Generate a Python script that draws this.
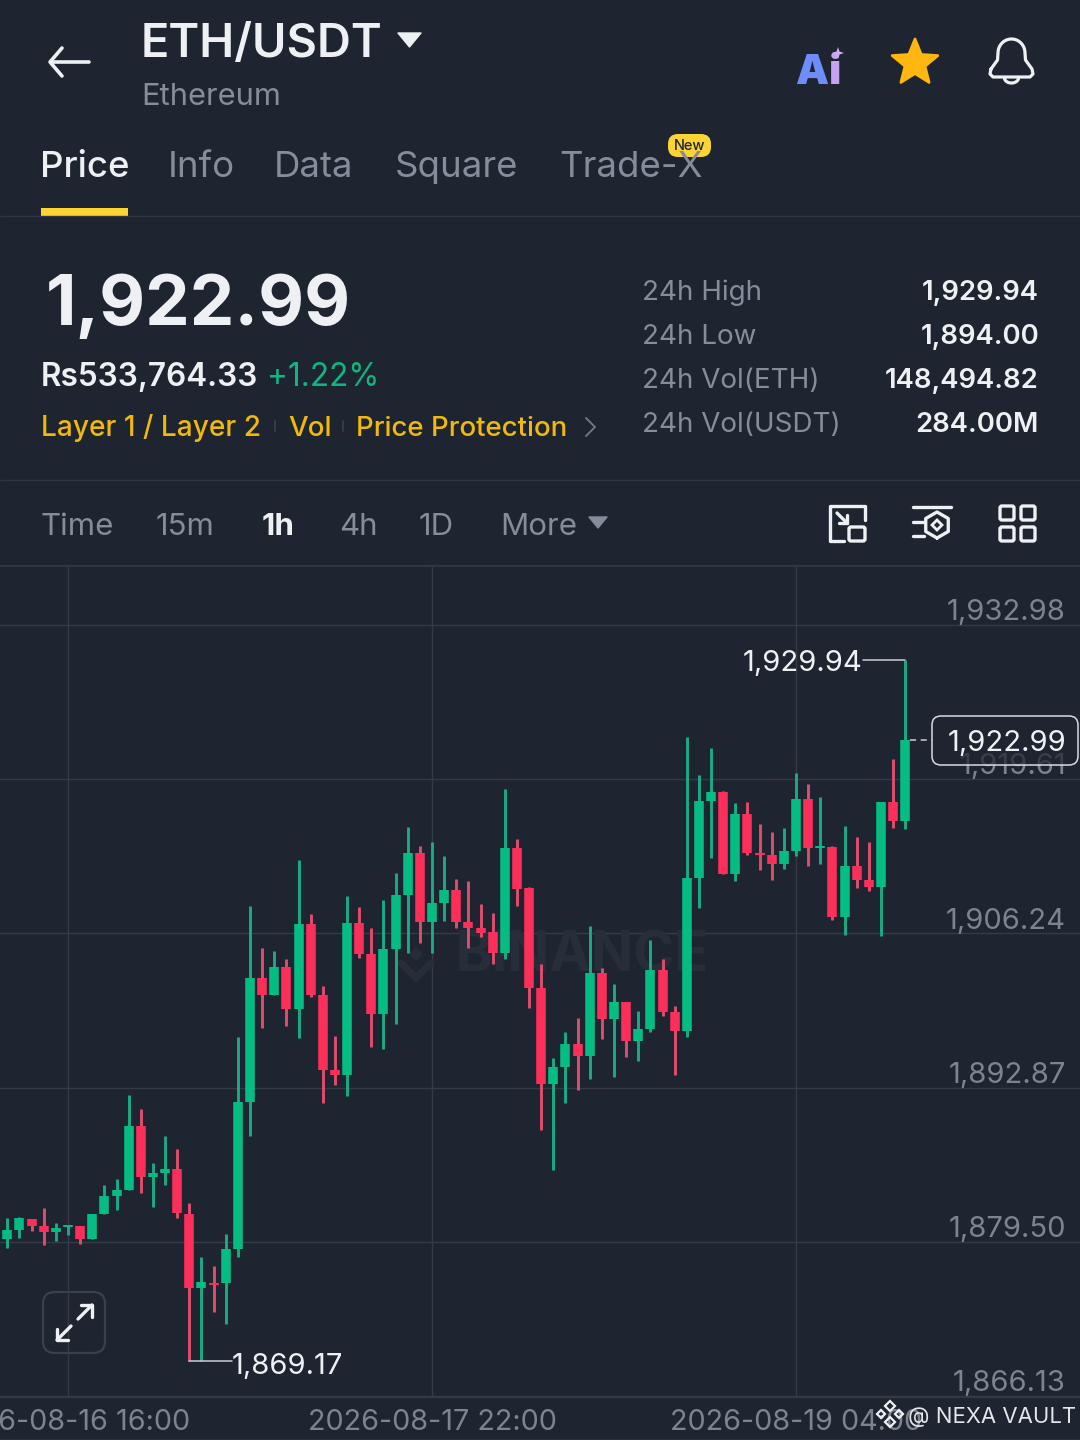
import numpy as np, pandas as pd, seaborn as sns
import matplotlib
matplotlib.use("Agg")
import matplotlib.pyplot as plt
from matplotlib.colors import to_rgba
from matplotlib.patches import FancyBboxPatch, Polygon, Rectangle
from matplotlib.transforms import blended_transform_factory as blend

first_index = -6
opens = [1881.56,1879.74,1880.52,1881.47,1880.87,1880.35,1880.78,1880.87,1879.74,1881.91,1883.47,1883.99,1889.53,1885.11,1885.46,1885.81,1881.91,1875.49,1875.92,1875.92,1878.87,1891.62,1902.37,1900.89,1903.32,1899.67,1907.05,1900.89,1894.39,1893.96,1907.13,1904.45,1899.25,1904.88,1909.56,1913.20,1907.22,1908.87,1910.00,1907.22,1906.71,1906.36,1904.54,1913.63,1910.17,1901.50,1893.18,1894.65,1896.65,1895.61,1902.80,1898.81,1900.29,1896.91,1897.95,1903.06,1899.42,1897.77,1911.04,1917.71,1918.49,1911.38,1916.59,1913.20,1913.03,1912.25,1913.38,1917.89,1913.63,1913.72,1907.65,1912.07,1910.86,1910.26,1917.63,1915.98]
highs = [1881.73,1881.56,1881.65,1881.47,1882.43,1881.13,1880.95,1880.87,1881.91,1884.42,1884.94,1892.22,1891.01,1886.33,1888.67,1887.54,1882.86,1878.18,1877.40,1880.17,1897.25,1908.61,1904.97,1904.71,1904.02,1912.60,1907.91,1901.67,1897.34,1909.48,1908.53,1906.71,1909.13,1911.47,1915.46,1913.81,1914.16,1912.94,1910.95,1910.77,1908.78,1908.00,1918.75,1914.42,1910.26,1903.58,1895.43,1897.69,1898.90,1906.88,1903.24,1901.85,1900.29,1899.51,1905.66,1904.02,1899.94,1923.26,1919.97,1922.31,1918.58,1917.54,1917.63,1915.72,1915.03,1915.37,1920.14,1919.19,1918.06,1913.81,1915.55,1914.59,1914.16,1917.63,1921.36,1929.94]
lows = [1880.17,1878.96,1879.83,1880.43,1879.22,1879.57,1880.09,1879.31,1879.74,1881.91,1882.25,1883.99,1883.73,1882.51,1884.42,1881.56,1869.17,1869.17,1873.41,1872.37,1878.18,1888.67,1898.03,1900.89,1898.21,1897.16,1900.72,1891.53,1893.09,1892.14,1904.10,1896.39,1896.21,1898.38,1904.54,1905.41,1904.54,1907.31,1906.71,1904.97,1905.93,1903.58,1904.02,1908.61,1899.77,1889.19,1885.72,1891.53,1892.66,1893.61,1897.08,1893.78,1895.52,1895.17,1897.69,1899.07,1893.96,1897.25,1908.44,1912.77,1911.38,1910.77,1913.03,1911.73,1910.86,1911.82,1912.94,1912.07,1912.25,1907.39,1906.10,1910.17,1909.91,1906.01,1915.37,1915.28]
closes = [1880.52,1880.52,1881.56,1880.87,1880.35,1880.69,1880.95,1879.74,1881.91,1883.47,1883.99,1889.53,1885.11,1885.46,1885.81,1881.99,1875.49,1876.01,1875.75,1878.87,1891.62,1902.37,1900.89,1903.32,1899.67,1907.05,1900.89,1894.39,1893.96,1907.13,1904.45,1899.25,1904.88,1909.56,1913.20,1907.22,1908.87,1910.00,1907.22,1906.71,1906.27,1904.54,1913.63,1910.08,1901.50,1893.18,1894.65,1896.65,1895.61,1902.80,1898.81,1900.29,1896.91,1897.95,1903.06,1899.42,1897.77,1911.04,1917.71,1918.49,1911.38,1916.59,1913.20,1913.03,1912.25,1913.38,1917.89,1913.63,1913.81,1907.65,1912.07,1910.86,1910.26,1917.63,1915.98,1922.99]
price_ticks = [1932.98,1919.61,1906.24,1892.87,1879.50,1866.13]
price_labels = ["1,932.98","1,919.61","1,906.24","1,892.87","1,879.50","1,866.13"]
time_ticks = [0,30,60]
time_labels = ["2026-08-16 16:00","2026-08-17 22:00","2026-08-19 04:00"]
tabs = ["Price","Info","Data","Square","Trade-X"]
intervals = ["Time","15m","1h","4h","1D","More"]
stat_names = ["24h High","24h Low","24h Vol(ETH)","24h Vol(USDT)"]
stat_values = ["1,929.94","1,894.00","148,494.82","284.00M"]

BG="#1E2530"; GRID="#343B47"; SEP="#2F3641"; GREY="#858D9A"; AXT="#7C8490"; WHITE="#EEF0F3"
GREEN="#05BD82"; RED="#FB2F5A"; GWICK="#17AC83"; RWICK="#E04C6C"; YEL="#F0B90B"; MARK="#272E3A"

sns.set_theme(style="dark", rc={"axes.facecolor":"none","figure.facecolor":BG,"axes.edgecolor":BG})
plt.rcParams["font.family"]=["Inter","DejaVu Sans"]

fig=plt.figure(figsize=(10.8,14.4),dpi=100,facecolor=BG)
top,bot=567,1396
ax=fig.add_axes([0,1-bot/1440,1,(bot-top)/1440],zorder=2)
ui=fig.add_axes([0,0,1,1],zorder=3); ui.set_xlim(0,1080); ui.set_ylim(1440,0); ui.axis("off")

idx=np.arange(len(opens))+first_index
df=pd.DataFrame(dict(i=idx,o=opens,h=highs,l=lows,c=closes))
df["dir"]=np.where(df.c>=df.o,"up","down")
wicks=df.melt(id_vars=["i","dir"],value_vars=["h","l"],value_name="p")
bodies=df.melt(id_vars=["i","dir"],value_vars=["o","c"],value_name="p")
sns.lineplot(data=wicks,x="i",y="p",hue="dir",units="i",estimator=None,sort=False,legend=False,
             palette={"up":GWICK,"down":RWICK},linewidth=2.1,solid_capstyle="butt",ax=ax,zorder=3)
sns.lineplot(data=bodies,x="i",y="p",hue="dir",units="i",estimator=None,sort=False,legend=False,
             palette={"up":GREEN,"down":RED},linewidth=6.9,solid_capstyle="butt",ax=ax,zorder=4)
ax.set_xlim(-68/12.133,(1080-68)/12.133)
ax.set_ylim(1866.13,1866.13+(bot-top)*13.37/154.2)
ax.set_xlabel("");ax.set_ylabel("")
ax.set_yticks(price_ticks); ax.set_yticklabels([])
ax.set_xticks(time_ticks); ax.set_xticklabels(time_labels,fontsize=20.7,color=AXT)
ax.tick_params(axis="x",length=0,pad=9.5); ax.tick_params(axis="y",length=0)
ax.grid(True,color=GRID,linewidth=1.0,zorder=1); ax.set_axisbelow(True)
for s in ax.spines.values(): s.set_visible(False)
tr=blend(ui.transData,ax.transData)
for p,l in zip(price_ticks,price_labels):
    ax.annotate(l,xy=(1066,p),xycoords=tr,xytext=(0,3.5),textcoords="offset points",ha="right",va="baseline",
                fontsize=21,color=AXT,zorder=2,annotation_clip=False)

# watermark
ax.text(455,972,"BINANCE",transform=ui.transData,fontsize=40,fontweight="bold",color=MARK,zorder=1.5)
ax.plot([401,416,431],[963,978,963],transform=ui.transData,color=MARK,lw=5,solid_joinstyle="miter",zorder=1.5)
ax.add_patch(Polygon([(409,954),(416,947),(423,954),(416,961)],transform=ui.transData,fc=MARK,ec="none",zorder=1.5))

# extremes
hi_i=int(np.argmax(highs)); lo_i=int(np.argmin(lows))
ax.plot([idx[hi_i],idx[hi_i]-3.5],[highs[hi_i]]*2,color="#C9CDD3",lw=1.1,zorder=5)
ax.annotate("1,929.94",xy=(idx[hi_i]-3.5,highs[hi_i]),xytext=(0,-2.2),textcoords="offset points",ha="right",va="center",fontsize=21,color=WHITE,zorder=6)
ax.plot([idx[lo_i],idx[lo_i]+3.5],[lows[lo_i]]*2,color="#C9CDD3",lw=1.1,zorder=5)
ax.annotate("1,869.17",xy=(idx[lo_i]+3.5,lows[lo_i]),xytext=(0,-3.8),textcoords="offset points",ha="left",va="center",fontsize=21,color=WHITE,zorder=6)
ax.plot([idx[-1]+0.4,idx[-1]+2.2],[closes[-1]]*2,color="#C9CDD3",lw=1.1,dashes=(4,3),zorder=5)

def T(x,y,s,size,color=WHITE,weight="normal",ha="left",va="baseline",**k):
    return ui.text(x,y,s,fontsize=size,color=color,fontweight=weight,ha=ha,va=va,**k)
def L(xs,ys,color=WHITE,lw=2,**k):
    ui.plot(xs,ys,color=color,lw=lw,solid_capstyle=k.pop("cap","round"),solid_joinstyle="round",**k)
def RB(x,y,w,h,r,fc="none",ec=WHITE,lw=2,**k):
    ui.add_patch(FancyBboxPatch((x+r,y+r),w-2*r,h-2*r,boxstyle=f"round,pad={r}",fc=fc,ec=ec,lw=lw,**k))

# price box: translucent fill, so the axis label beneath shows through faintly
RB(932,716,146,49,9,fc=to_rgba(BG,0.72),ec="#D8DBE0",lw=1.1,zorder=8)
T(1066,743,"1,922.99",21,va="center",ha="right",zorder=9)

# header
L([51,89],[62,62],lw=2.6); L([62,50,62],[48,62,76],lw=2.6)
T(141,57,"ETH/USDT",33.8,weight="semibold")
ui.add_patch(Polygon([(398,33),(421,33),(409.5,47)],fc=WHITE,ec=WHITE,lw=1,joinstyle="round"))
T(141,105,"Ethereum",22.2,GREY)
T(795,84,"A",30,"#6E8DFB",weight="black"); T(829,84,"i",30,"#C6A2F2",weight="black")
ui.add_patch(Polygon([(838,47),(839.5,51.5),(844,53),(839.5,54.5),(838,59),(836.5,54.5),(832,53),(836.5,51.5)],fc="#D6A8EE",ec="none",zorder=5))
ang=np.deg2rad(np.arange(11)*36-90); rad=np.array([24,10.5]*5+[24])
ui.add_patch(Polygon(np.c_[915+rad*np.cos(ang),63+rad*np.sin(ang)],fc="#FFB70F",ec="#FFB70F",lw=2,joinstyle="round"))
# bell
th=np.linspace(np.pi,0,30)
xs=np.r_[991,997.5,1011.5+13.5*np.cos(th),1025.5,1032,1033,1030,993,990,991]
ys=np.r_[69,60,53-14*np.sin(th),60,69,74,77,77,74,69]
L(xs,ys,lw=2.3)
th2=np.linspace(0,np.pi,20); L(1011.5+7*np.cos(th2),78+5*np.sin(th2),lw=2.3)

# tabs
for x,s,c,w in zip([40,168,274,395,559],tabs,[WHITE]+[GREY]*4,["medium"]+["normal"]*4):
    T(x,177,s,26.3,c,weight=w)
ui.add_patch(Rectangle((41,208),87,8,fc="#FCD535",ec="none"))
RB(668,134,43,23,10,fc="#FCD535",ec="none",lw=0)
T(689.5,146,"New",10.5,"#1E2530",weight="medium",ha="center",va="center")
L([0,1080],[216,216],SEP,1,cap="butt")
L([0,1080],[480,480],SEP,1,cap="butt")
L([0,1080],[566,566],SEP,1.6,cap="butt")
L([0,1080],[1396.5,1396.5],"#333A46",1.6,cap="butt")
L([0,1080],[1438.5,1438.5],"#2A313C",1,cap="butt")

# price block
T(46,325,"1,922.99",51,weight="bold")
T(41,386,"Rs533,764.33",22.7,weight="semibold")
T(267,386,"+1.22%",22.7,"#0CB87F")
for x,s,sz in [(41,"Layer 1 / Layer 2",20.2),(288,"Vol",20),(356,"Price Protection",19.9)]:
    T(x,436,s,sz,YEL,weight="medium")
for x in (275,343): L([x,x],[421,431],"#3A414C",1.2)
L([586,595,586],[418,427,436],"#6F7784",1.4)
for y,n,v in zip([300,344,388,432],stat_names,stat_values):
    T(642,y,n,20,GREY); T(1039,y,v,19.8,weight="semibold",ha="right")

# interval row
for x,s,c,w in zip([41,156,262,339,419,500],intervals,[GREY,GREY,WHITE,GREY,GREY,GREY],["normal","normal","bold","normal","normal","normal"]):
    T(x,535,s,22.5,c,weight=w)
ui.add_patch(Polygon([(589,517),(607,517),(598,528)],fc=GREY,ec=GREY,lw=1,joinstyle="round"))
# icon 1
L([844,830,830,865,865],[541,541,506,506,520],lw=2.4)
RB(849,527,16,14,2,lw=2.4)
L([837,847],[513,523],lw=2.4); L([847,847],[515,523],lw=2.4); L([839,847],[523,523],lw=2.4)
# icon 2
L([913,951],[507,507],lw=2.4); L([913,924],[522,522],lw=2.4); L([913,924],[536,536],lw=2.4)
th3=np.deg2rad(np.arange(7)*60+90)
L(937+13*np.cos(th3),525+13*np.sin(th3),lw=2.4)
ui.add_patch(Polygon([(937,520),(942,525),(937,530),(932,525)],fc="none",ec=WHITE,lw=2))
# icon 3
for x in (1000,1021):
    for y in (506,527): RB(x,y,14,14,2,lw=2.4)
# expand button
RB(43,1292,62,61,12,ec="#3A414D",lw=1.6)
L([78,92],[1319,1305],lw=2.4); L([81,92,92],[1305,1305,1317],lw=2.4)
L([71,57],[1326,1340],lw=2.4); L([57,57,68],[1329,1340,1340],lw=2.4)
# corner watermark
for cx,cy,r in [(890,1406,5),(881,1414,4),(899,1414,4),(890,1422,5)]:
    ui.add_patch(Polygon([(cx-r,cy),(cx,cy-r),(cx+r,cy),(cx,cy+r)],fc="none",ec=WHITE,lw=1.6,zorder=9))
T(908,1423,"@ NEXA VAULT",15.9,"#E4E6EA",zorder=9)
fig.savefig("out.png",dpi=100,facecolor=BG)
